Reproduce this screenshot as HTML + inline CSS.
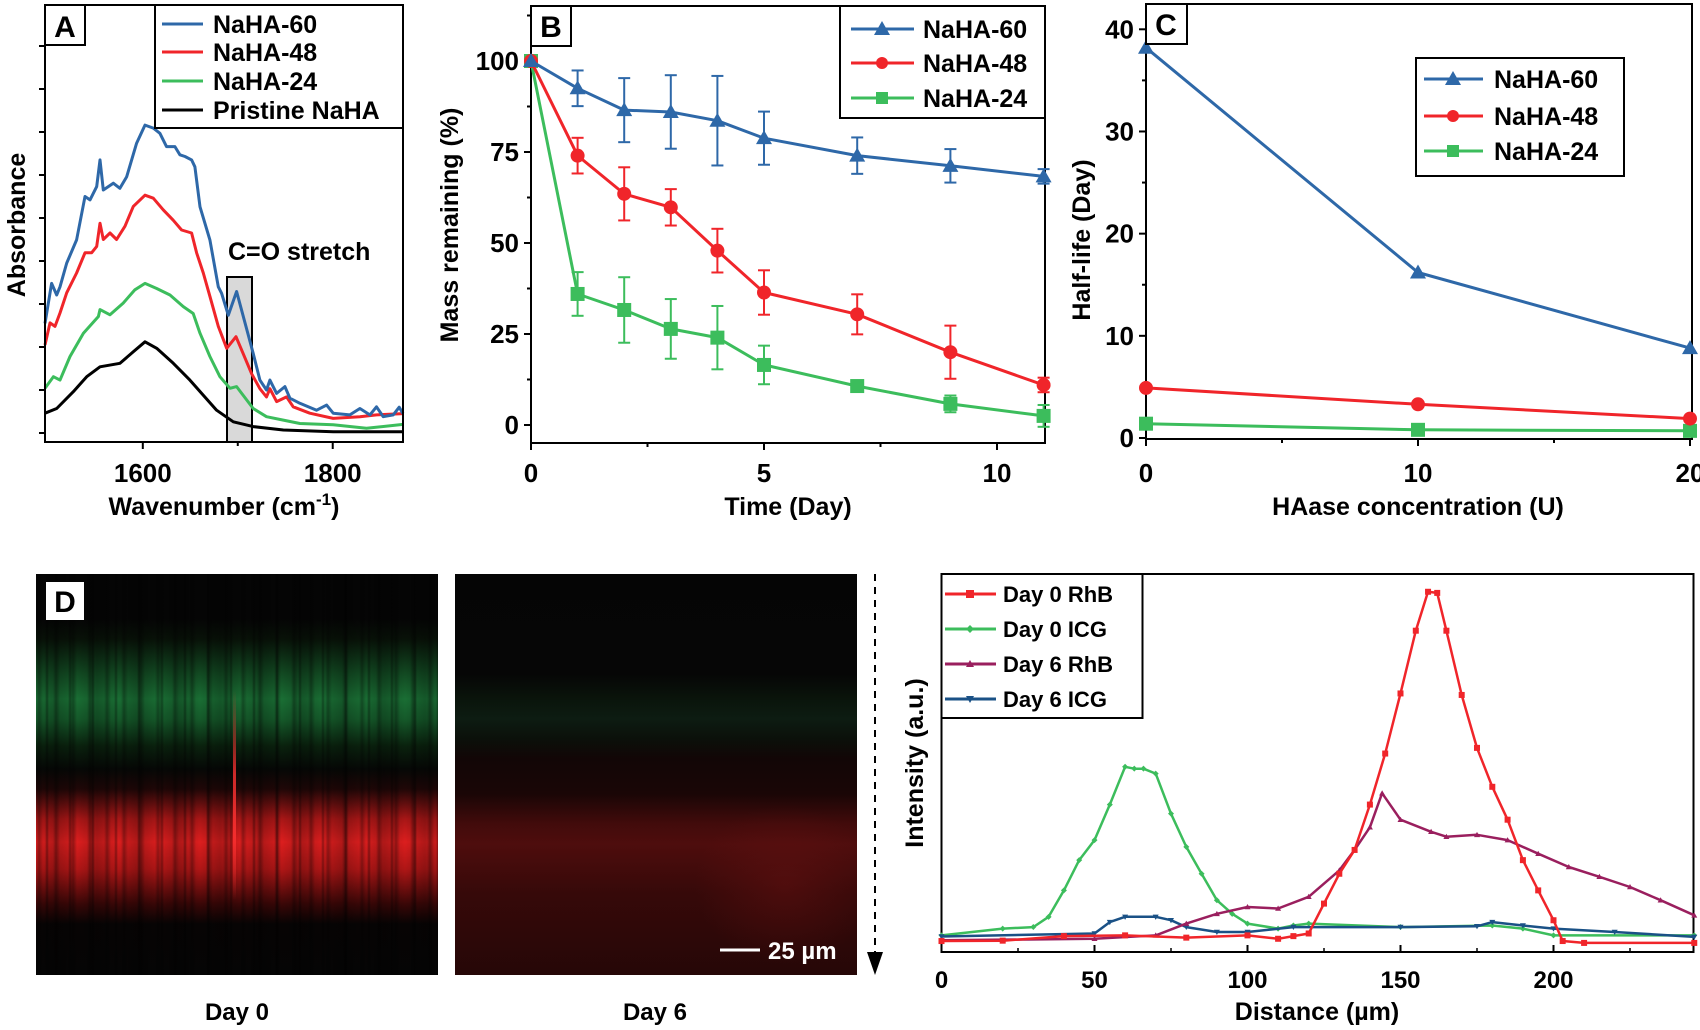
<!DOCTYPE html>
<html><head><meta charset="utf-8">
<style>
html,body{margin:0;padding:0;background:#fff;}
svg{display:block;font-family:"Liberation Sans",Arial,sans-serif;font-weight:bold;}
.img{position:absolute;}
</style></head>
<body>
<div style="position:relative;width:1700px;height:1030px;overflow:hidden;">
<div class="img" style="left:36px;top:574px;width:402px;height:401px;background:
repeating-linear-gradient(90deg,rgba(0,0,0,0) 0px,rgba(0,0,0,0.3) 3px,rgba(0,0,0,0) 7px,rgba(0,0,0,0) 17px),
repeating-linear-gradient(90deg,rgba(0,0,0,0) 0px,rgba(0,0,0,0) 9px,rgba(0,0,0,0.35) 11px,rgba(0,0,0,0) 13px,rgba(0,0,0,0) 23px),
repeating-linear-gradient(90deg,rgba(0,0,0,0) 0px,rgba(0,0,0,0.2) 20px,rgba(0,0,0,0) 41px),
linear-gradient(180deg,#050505 0px,#050505 45px,#081208 65px,#124a22 100px,#1a6e34 125px,#155a2a 145px,#0a220e 172px,#060806 195px,#200707 215px,#a81616 245px,#dc1e1e 268px,#b01616 295px,#3a0707 330px,#070404 350px,#050505 401px);"></div>
<div class="img" style="left:233px;top:690px;width:3px;height:210px;background:linear-gradient(180deg,rgba(255,40,40,0),rgba(255,50,50,0.8) 40%,rgba(255,50,50,0.8) 70%,rgba(255,40,40,0));"></div>
<div class="img" style="left:455px;top:574px;width:402px;height:401px;background:
radial-gradient(ellipse 90px 80px at 330px 310px,rgba(120,20,20,0.35),rgba(0,0,0,0)),
linear-gradient(180deg,#050505 0px,#060606 100px,#0a140b 125px,#0d1c12 145px,#0b100a 165px,#120606 185px,#1a0606 220px,#420b0b 250px,#4e0d0d 270px,#360909 320px,#260707 401px);"></div>
<svg id="fig" width="1700" height="1030" viewBox="0 0 1700 1030" style="position:absolute;left:0;top:0;">
<g id="A"></g>
<g id="B"></g>
<g id="C"></g>
<g id="D"></g>
</svg>
</div>
<script>
// ---------- Panel A data ----------
const aBlueX=[1497,1504,1509.3,1512.8,1519.8,1530.3,1539.1,1544.4,1551.4,1554.9,1558.4,1568.9,1575.9,1583,1593.5,1602.3,1611,1618,1625,1633.8,1639.1,1644.4,1651.4,1654.9,1660.2,1670.7,1679.5,1683,1690,1698.8,1705.8,1716.3,1723.3,1730.3,1733.8,1740.9,1749.6,1754.9,1765.4,1783,1793.5,1800.5,1818,1828.6,1839.1,1846.1,1853.1,1863.7,1870,1874];
const aBlueY=[2.55,3.48,3.21,3.40,3.95,4.49,5.50,5.42,5.73,6.35,5.65,5.81,5.69,5.96,6.74,7.16,7.09,6.97,6.66,6.66,6.47,6.43,6.35,6.19,5.26,4.49,3.40,3.25,2.74,3.29,2.71,1.85,1.23,1.00,1.23,0.92,1.08,0.81,0.69,0.53,0.65,0.46,0.42,0.57,0.42,0.61,0.38,0.42,0.6,0.45];
const aRedX=[1497,1502.3,1507.5,1512.8,1519.8,1530.3,1539.1,1546.1,1551.4,1554.9,1558.4,1565.4,1572.4,1581.2,1590,1602.3,1611,1621.5,1632,1640.8,1651.4,1656.6,1663.7,1670.7,1679.5,1688.3,1698.1,1705.8,1714.6,1723.3,1730.3,1733.8,1740.9,1751.4,1758.4,1775.9,1800.5,1828.6,1846.1,1874];
const aRedY=[2.05,2.56,2.48,2.79,3.26,3.72,4.19,4.19,4.34,4.88,4.50,4.65,4.50,4.81,5.27,5.53,5.46,5.19,4.95,4.72,4.65,4.19,3.72,3.18,2.48,1.97,2.24,1.84,1.38,1.03,0.84,1.03,0.73,0.84,0.61,0.46,0.34,0.38,0.42,0.45];
const aGreenX=[1497,1505.8,1512.8,1523.3,1537.4,1553.2,1554.9,1565.4,1579.4,1591.7,1602.3,1614.6,1628.6,1642.6,1653.1,1660.2,1670.7,1681.2,1691.8,1698.8,1704.1,1716.3,1730.3,1747.9,1765.4,1800.5,1835.6,1874];
const aGreenY=[1.04,1.31,1.23,1.78,2.32,2.71,2.87,2.75,3.02,3.33,3.48,3.36,3.21,2.94,2.78,2.32,1.78,1.31,1.04,1.08,0.92,0.57,0.38,0.30,0.22,0.19,0.11,0.2];
const aBlackX=[1497,1509.3,1526.8,1540.9,1554.9,1576,1590,1602.3,1614.6,1632.1,1649.6,1663.7,1677.7,1695.3,1716.3,1747.9,1800.5,1874];
const aBlackY=[0.46,0.57,0.96,1.31,1.54,1.62,1.89,2.12,1.97,1.62,1.23,0.88,0.53,0.26,0.15,0.07,0.03,0.03];
const aXTicks=[1600,1800];
const aXMinor=[1700];
const aYTicks=[0,1,2,3,4,5,6,7,8,9];

// ---------- Panel B data ----------
const bDays=[0,1,2,3,4,5,7,9,11];
const b60=[100,92.5,86.5,86,83.6,78.8,74,71.2,68.3];
const b60Err=[0,4.9,8.8,10.1,12.3,7.3,5,4.6,2];
const b48=[100,74,63.5,59.8,47.9,36.4,30.4,20,11];
const b48Err=[0,4.9,7.3,5,6,6.1,5.5,7.3,2];
const b24=[100,36,31.6,26.4,24,16.5,10.7,5.8,2.5];
const b24Err=[0,6,9,8.2,8.7,5.3,1,2.3,3];
const bXTicks=[0,5,10];
const bYTicks=[0,25,50,75,100];

// ---------- Panel C data ----------
const cConc=[0,10,20];
const c60=[38.2,16.2,8.8];
const c48=[4.9,3.3,1.9];
const c24=[1.4,0.8,0.7];
const cXTicks=[0,10,20];
const cYTicks=[0,10,20,30,40];

// ---------- Panel D data ----------
const dRhB0X=[0,20,40,60,80,100,110,115,120,125,130,135,140,145,150,155,159,162,165,170,175,180,185,190,195,200,203,210,246];
const dRhB0Y=[2.9,3.0,4.2,4.4,3.8,4.4,3.5,4.2,4.9,12.8,20.7,27,39,52.5,68.4,85,95.3,95,85,68,54,43.7,35,24.3,16.3,8.4,2.9,2.4,2.4];
const dICG0X=[0,20,30,35,40,45,50,55,60,63,66,70,75,80,85,90,95,100,110,115,120,150,180,190,200,246];
const dICG0Y=[4.4,6.2,6.6,9.3,16.3,24.3,29.6,39,49,48.5,48.5,47.2,36.6,27.8,20.7,13.7,10.1,7.5,6.2,7,7.5,6.6,7,6.2,4.4,4.4];
const dRhB6X=[0,50,70,80,90,100,110,120,130,135,140,144,150,160,165,175,185,195,205,215,225,235,246];
const dRhB6Y=[3.1,3.5,4.4,7.5,10.1,11.9,11.5,14.6,21.6,27,33,42,35,31.8,30.5,31,29.6,26,22.5,19.9,17.2,13.7,9.7];
const dICG6X=[0,50,55,60,70,75,80,90,100,115,150,175,180,190,200,220,246];
const dICG6Y=[4.1,4.9,7.9,9.3,9.3,8.4,6.6,5.3,5.3,6.6,6.6,6.8,7.9,7,6.2,5.3,4];
const dXTicks=[0,50,100,150,200];
const dXMinor=[25,75,125,175,225];

const NS="http://www.w3.org/2000/svg";
function lin(d0,d1,r0,r1){return v=>r0+(v-d0)*(r1-r0)/(d1-d0);}
function mk(parent,tag,attrs,text){const e=document.createElementNS(NS,tag);for(const k in attrs)e.setAttribute(k,attrs[k]);if(text!==undefined)e.textContent=text;parent.appendChild(e);return e;}
function poly(g,xs,ys,sx,sy,col,w){return mk(g,'polyline',{points:xs.map((x,i)=>sx(x).toFixed(1)+','+sy(ys[i]).toFixed(1)).join(' '),fill:'none',stroke:col,'stroke-width':w,'stroke-linejoin':'round'});}
function marker(g,type,x,y,s,col){
  if(type==='tri')return mk(g,'polygon',{points:`${x},${y-s} ${x-s},${y+s*0.75} ${x+s},${y+s*0.75}`,fill:col});
  if(type==='tridown')return mk(g,'polygon',{points:`${x},${y+s} ${x-s},${y-s*0.75} ${x+s},${y-s*0.75}`,fill:col});
  if(type==='circ')return mk(g,'circle',{cx:x,cy:y,r:s,fill:col});
  if(type==='dia')return mk(g,'polygon',{points:`${x},${y-s} ${x+s},${y} ${x},${y+s} ${x-s},${y}`,fill:col});
  return mk(g,'rect',{x:x-s,y:y-s,width:2*s,height:2*s,fill:col});
}
const BLUE='#2e68a8',RED='#f0252a',GREEN='#3cbd5c',BLACK='#000',PURP='#9a1f5e',NAVY='#1a5186';
const FS=25;

// ===== Panel A =====
(function(){
const g=document.getElementById('A');
const sx=lin(1497,1874,45,403), sy=lin(0,1,433,390);
const series=[[aBlackX,aBlackY,BLACK,'pristine-curve'],[aGreenX,aGreenY,GREEN,'naha-24-curve'],[aRedX,aRedY,RED,'naha-48-curve'],[aBlueX,aBlueY,BLUE,'naha-60-curve']];
const hl=mk(g,'rect',{x:227,y:277,width:25,height:165,fill:'#d9d9d9',stroke:'#000','stroke-width':2});


series.forEach(s=>{const p=poly(g,s[0],s[1],sx,sy,s[2],3);

});
mk(g,'rect',{x:45,y:5,width:358,height:437,fill:'none',stroke:'#000','stroke-width':2});
aYTicks.forEach(t=>{mk(g,'line',{x1:39,x2:45,y1:sy(t),y2:sy(t),stroke:'#000','stroke-width':2});});
aXTicks.forEach(t=>{mk(g,'line',{x1:sx(t),x2:sx(t),y1:442,y2:449,stroke:'#000','stroke-width':2});
const tl=mk(g,'text',{x:sx(t),y:482,'text-anchor':'middle','font-size':26},t);

});
aXMinor.forEach(t=>mk(g,'line',{x1:sx(t),x2:sx(t),y1:442,y2:446,stroke:'#000','stroke-width':2}));
const t1=mk(g,'text',{x:228,y:260,'font-size':FS},'C=O stretch');


const yt=mk(g,'text',{x:0,y:0,'font-size':FS,'text-anchor':'middle',transform:'translate(25,225) rotate(-90)'},'Absorbance');


const xt=mk(g,'text',{x:224,y:515,'font-size':FS,'text-anchor':'middle'});


xt.innerHTML='Wavenumber (cm<tspan dy="-10" font-size="17">-1</tspan><tspan dy="10">)</tspan>';
mk(g,'rect',{x:155,y:5,width:248,height:123,fill:'#fff',stroke:'#000','stroke-width':2});
[['NaHA-60',BLUE],['NaHA-48',RED],['NaHA-24',GREEN],['Pristine NaHA',BLACK]].forEach((e,i)=>{
const y=[24,52,81,110][i];
mk(g,'line',{x1:162,x2:203,y1:y,y2:y,stroke:e[1],'stroke-width':3});
const lt=mk(g,'text',{x:213,y:y+9,'font-size':FS},e[0]);

});
mk(g,'rect',{x:45,y:5,width:40,height:40,fill:'#fff',stroke:'#000','stroke-width':2});
const pl=mk(g,'text',{x:65,y:37,'font-size':30,'text-anchor':'middle'},'A');


})();

// ===== Panel B =====
(function(){
const g=document.getElementById('B');
const sx=lin(0,10,531,997), sy=lin(0,100,425,61);
mk(g,'rect',{x:531,y:6,width:514,height:437,fill:'none',stroke:'#000','stroke-width':2});
bYTicks.forEach(t=>{mk(g,'line',{x1:524,x2:531,y1:sy(t),y2:sy(t),stroke:'#000','stroke-width':2});
const tl=mk(g,'text',{x:519,y:sy(t)+9,'text-anchor':'end','font-size':26},t);

});
[12.5,37.5,62.5,87.5,112.5].forEach(t=>mk(g,'line',{x1:527,x2:531,y1:sy(t),y2:sy(t),stroke:'#000','stroke-width':2}));
bXTicks.forEach(t=>{mk(g,'line',{x1:sx(t),x2:sx(t),y1:443,y2:450,stroke:'#000','stroke-width':2});
const tl=mk(g,'text',{x:sx(t),y:482,'text-anchor':'middle','font-size':26},t);

});
[2.5,7.5].forEach(t=>mk(g,'line',{x1:sx(t),x2:sx(t),y1:443,y2:447,stroke:'#000','stroke-width':2}));
const sets=[[b24,b24Err,GREEN,'sq','naha-24'],[b48,b48Err,RED,'circ','naha-48'],[b60,b60Err,BLUE,'tri','naha-60']];
sets.forEach(s=>{
const p=poly(g,bDays,s[0],sx,sy,s[2],3);


bDays.forEach((d,i)=>{
const x=sx(d),e=s[1][i];
if(e>0){mk(g,'line',{x1:x,x2:x,y1:sy(s[0][i]+e),y2:sy(s[0][i]-e),stroke:s[2],'stroke-width':2});
mk(g,'line',{x1:x-6,x2:x+6,y1:sy(s[0][i]+e),y2:sy(s[0][i]+e),stroke:s[2],'stroke-width':2});
mk(g,'line',{x1:x-6,x2:x+6,y1:sy(s[0][i]-e),y2:sy(s[0][i]-e),stroke:s[2],'stroke-width':2});}
const m=marker(g,s[3],x,sy(s[0][i]),s[3]==='tri'?8:7,s[2]);


});});
const yt=mk(g,'text',{x:0,y:0,'font-size':FS,'text-anchor':'middle',transform:'translate(458,225) rotate(-90)'},'Mass remaining (%)');


const xt=mk(g,'text',{x:788,y:515,'font-size':FS,'text-anchor':'middle'},'Time (Day)');


mk(g,'rect',{x:840,y:6,width:205,height:112,fill:'#fff',stroke:'#000','stroke-width':2});
[['NaHA-60',BLUE,'tri'],['NaHA-48',RED,'circ'],['NaHA-24',GREEN,'sq']].forEach((e,i)=>{
const y=[29,63,98][i];
mk(g,'line',{x1:851,x2:914,y1:y,y2:y,stroke:e[1],'stroke-width':3});
marker(g,e[2],882,y,e[2]==='tri'?8:6,e[1]);
const lt=mk(g,'text',{x:923,y:y+9,'font-size':FS},e[0]);

});
mk(g,'rect',{x:531,y:6,width:40,height:40,fill:'#fff',stroke:'#000','stroke-width':2});
const pl=mk(g,'text',{x:551,y:37,'font-size':30,'text-anchor':'middle'},'B');


})();

// ===== Panel C =====
(function(){
const g=document.getElementById('C');
const sx=lin(0,10,1146,1418), sy=lin(0,40,438,29.3);
mk(g,'rect',{x:1146,y:4,width:546,height:435,fill:'none',stroke:'#000','stroke-width':2});
cYTicks.forEach(t=>{mk(g,'line',{x1:1139,x2:1146,y1:sy(t),y2:sy(t),stroke:'#000','stroke-width':2});
const tl=mk(g,'text',{x:1134,y:sy(t)+9,'text-anchor':'end','font-size':26},t);

});
[5,15,25,35].forEach(t=>mk(g,'line',{x1:1142,x2:1146,y1:sy(t),y2:sy(t),stroke:'#000','stroke-width':2}));
cXTicks.forEach(t=>{mk(g,'line',{x1:sx(t),x2:sx(t),y1:439,y2:446,stroke:'#000','stroke-width':2});
const tl=mk(g,'text',{x:sx(t),y:482,'text-anchor':'middle','font-size':26},t);

});
[5,15].forEach(t=>mk(g,'line',{x1:sx(t),x2:sx(t),y1:439,y2:443,stroke:'#000','stroke-width':2}));
[[c24,GREEN,'sq','naha-24'],[c48,RED,'circ','naha-48'],[c60,BLUE,'tri','naha-60']].forEach(s=>{
const p=poly(g,cConc,s[0],sx,sy,s[1],3);


cConc.forEach((c,i)=>{const m=marker(g,s[2],sx(c),sy(s[0][i]),s[2]==='tri'?8:7,s[1]);

});});
const yt=mk(g,'text',{x:0,y:0,'font-size':FS,'text-anchor':'middle',transform:'translate(1090,240) rotate(-90)'},'Half-life (Day)');


const xt=mk(g,'text',{x:1418,y:515,'font-size':FS,'text-anchor':'middle'},'HAase concentration (U)');


mk(g,'rect',{x:1416,y:58,width:208,height:118,fill:'#fff',stroke:'#000','stroke-width':2});
[['NaHA-60',BLUE,'tri'],['NaHA-48',RED,'circ'],['NaHA-24',GREEN,'sq']].forEach((e,i)=>{
const y=[79,116,151][i];
mk(g,'line',{x1:1424,x2:1483,y1:y,y2:y,stroke:e[1],'stroke-width':3});
marker(g,e[2],1453,y,e[2]==='tri'?8:6,e[1]);
const lt=mk(g,'text',{x:1494,y:y+9,'font-size':FS},e[0]);

});
mk(g,'rect',{x:1146,y:4,width:41,height:40,fill:'#fff',stroke:'#000','stroke-width':2});
const pl=mk(g,'text',{x:1166,y:35,'font-size':30,'text-anchor':'middle'},'C');


})();

// ===== Panel D =====
(function(){
const g=document.getElementById('D');
const sx=lin(0,100,941.5,1247.5), sy=lin(0,100,952,574);
mk(g,'rect',{x:941.5,y:574,width:752,height:378,fill:'none',stroke:'#000','stroke-width':2});
dXTicks.forEach(t=>{mk(g,'line',{x1:sx(t),x2:sx(t),y1:952,y2:945,stroke:'#000','stroke-width':2});
const tl=mk(g,'text',{x:sx(t),y:988,'text-anchor':'middle','font-size':24},t);

});
dXMinor.forEach(t=>mk(g,'line',{x1:sx(t),x2:sx(t),y1:952,y2:948,stroke:'#000','stroke-width':1.5}));
const sets=[[dICG0X,dICG0Y,GREEN,'dia','day0-icg'],[dICG6X,dICG6Y,NAVY,'tridown','day6-icg'],[dRhB6X,dRhB6Y,PURP,'tri','day6-rhb'],[dRhB0X,dRhB0Y,RED,'sq','day0-rhb']];
sets.forEach(s=>{const p=poly(g,s[0],s[1],sx,sy,s[2],2.5);


s[0].forEach((x,i)=>{const m=marker(g,s[3],sx(x),sy(s[1][i]),3,s[2]);

});});
const yt=mk(g,'text',{x:0,y:0,'font-size':FS,'text-anchor':'middle',transform:'translate(923,763) rotate(-90)'},'Intensity (a.u.)');


const xt=mk(g,'text',{x:1317,y:1020,'font-size':FS,'text-anchor':'middle'},'Distance (µm)');


mk(g,'rect',{x:941.5,y:574,width:201,height:144,fill:'#fff',stroke:'#000','stroke-width':2});
[['Day 0 RhB',RED,'sq'],['Day 0 ICG',GREEN,'dia'],['Day 6 RhB',PURP,'tri'],['Day 6 ICG',NAVY,'tridown']].forEach((e,i)=>{
const y=[594,629,664,699][i];
mk(g,'line',{x1:945,x2:996,y1:y,y2:y,stroke:e[1],'stroke-width':3});
marker(g,e[2],970,y,4,e[1]);
const lt=mk(g,'text',{x:1003,y:y+8,'font-size':22},e[0]);

});
mk(g,'rect',{x:46,y:582,width:38,height:38,fill:'#fff'});
const pl=mk(g,'text',{x:65,y:612,'font-size':30,'text-anchor':'middle'},'D');


const l0=mk(g,'text',{x:237,y:1020,'font-size':24,'text-anchor':'middle'},'Day 0');


const l6=mk(g,'text',{x:655,y:1020,'font-size':24,'text-anchor':'middle'},'Day 6');


mk(g,'line',{x1:720,x2:760,y1:950,y2:950,stroke:'#fff','stroke-width':3});
const sb=mk(g,'text',{x:768,y:959,'font-size':24,fill:'#fff'},'25 µm');


mk(g,'line',{x1:875,x2:875,y1:574,y2:955,stroke:'#000','stroke-width':2,'stroke-dasharray':'7,6'});
const ar=mk(g,'polygon',{points:'867,952 883,952 875,975',fill:'#000'});


})();
</script>
</body></html>
